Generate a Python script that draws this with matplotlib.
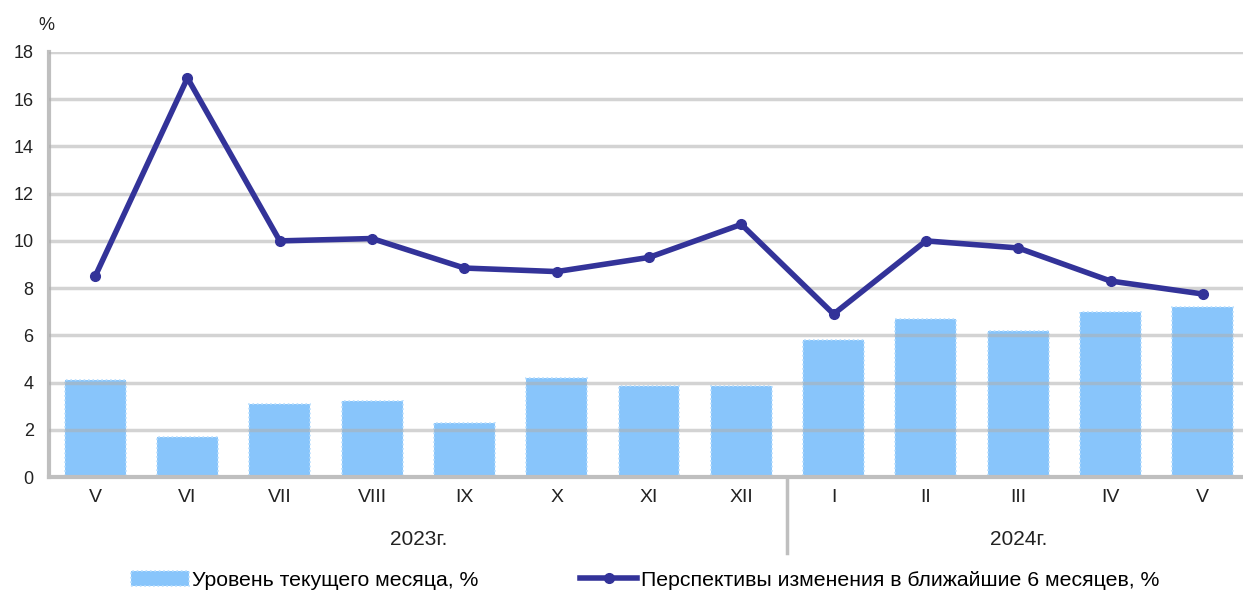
import matplotlib.pyplot as plt
import numpy as np

plt.rcParams['font.family'] = ['Liberation Sans', 'DejaVu Sans']

months = ['V', 'VI', 'VII', 'VIII', 'IX', 'X', 'XI', 'XII', 'I', 'II', 'III', 'IV', 'V']
years = ['2023г.', '2024г.']
year_counts = [8, 5]
current_level = [4.1, 1.7, 3.1, 3.2, 2.3, 4.2, 3.85, 3.85, 5.8, 6.7, 6.2, 7.0, 7.2]
outlook_6m = [8.5, 16.9, 10.0, 10.1, 8.85, 8.7, 9.3, 10.7, 6.9, 10.0, 9.7, 8.3, 7.75]

bar_label = 'Уровень текущего месяца, %'
line_label = 'Перспективы изменения в ближайшие 6 месяцев, %'

fig = plt.figure(figsize=(12.43, 5.93), dpi=100)
ax = fig.add_axes([49 / 1243, 1 - 477 / 593, 1200 / 1243, (477 - 52) / 593])

x = np.arange(len(months))
bars = ax.bar(x, current_level, width=0.66, color='#88c5fb', edgecolor='#b9defd',
              linestyle=':', linewidth=1.2, zorder=2, label=bar_label)
for yv in range(2, 20, 2):
    ax.axhline(yv, color='#b0b0b0', lw=2.5, alpha=0.55, zorder=3)
line, = ax.plot(x, outlook_6m, color='#333399', lw=4, marker='o', markersize=7,
                zorder=4, label=line_label)

ax.set_xlim(-0.5, len(months) - 0.5)
ax.set_ylim(0, 18)
ax.set_yticks(range(0, 19, 2))
ax.set_xticks(x)
ax.set_xticklabels(months)
ax.tick_params(axis='both', length=0, colors='#222222')
ax.tick_params(axis='x', pad=9, labelsize=14)
ax.tick_params(axis='y', pad=11, labelsize=13)
for s in ['top', 'right']:
    ax.spines[s].set_visible(False)
for s in ['left', 'bottom']:
    ax.spines[s].set_color('#bfbfbf')
    ax.spines[s].set_linewidth(3)

# year groups
start = 0
for i, (yr, n) in enumerate(zip(years, year_counts)):
    center = start + (n - 1) / 2
    ax.text(center, -2.65, yr, ha='center', va='center', fontsize=15, color='#222222')
    start += n
    if i < len(years) - 1:
        ax.plot([start - 0.5, start - 0.5], [0, -3.2], color='#bfbfbf', lw=2.5,
                clip_on=False, zorder=1)

fig.text(46 / 1243, 1 - 25 / 593, '%', ha='center', va='center', fontsize=13, color='#222222')

fig.legend(handles=[bars, line], labels=[bar_label, line_label], loc='center',
           bbox_to_anchor=(0.519, 1 - 580 / 593), ncol=2, frameon=False, fontsize=15.3,
           handlelength=2.7, columnspacing=4.8, handletextpad=0.15)

fig.savefig('out.png', dpi=100)
